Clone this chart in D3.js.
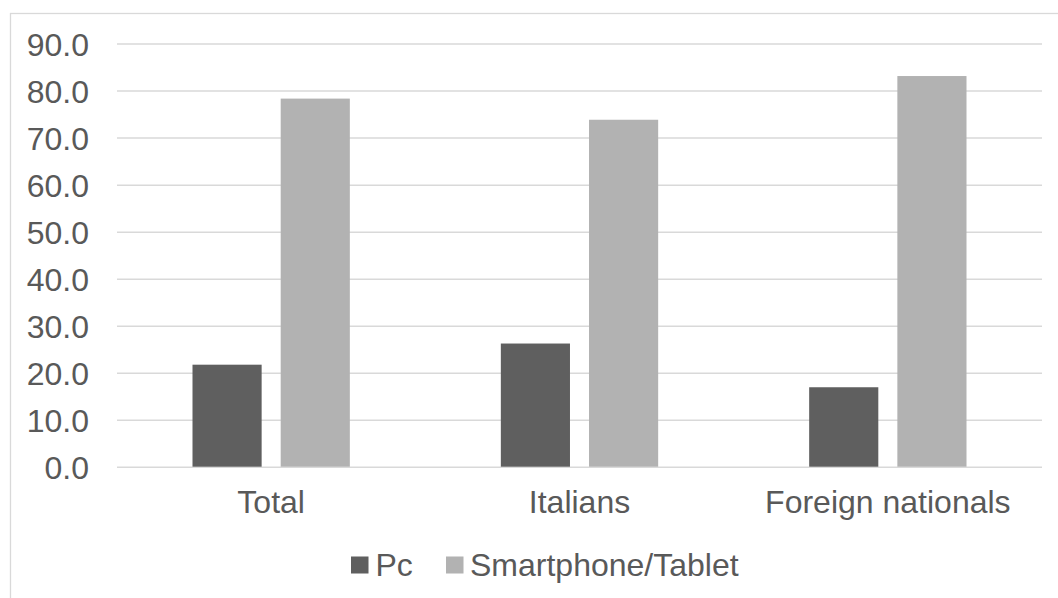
<!DOCTYPE html>
<html>
<head>
<meta charset="utf-8">
<script src="https://cdn.jsdelivr.net/npm/d3@7"></script>
<style>
  html, body { margin: 0; padding: 0; background: #fff; }
  svg { display: block; }
</style>
</head>
<body>
<svg id="chart" width="1058" height="598"></svg>
<script>
const categories = ["Total", "Italians", "Foreign nationals"];
const seriesNames = ["Pc", "Smartphone/Tablet"];
const pcValues = [21.7, 26.2, 16.9];
const smartphoneValues = [78.3, 73.8, 83.1];
const yTicks = [0, 10, 20, 30, 40, 50, 60, 70, 80, 90];
const colors = ["#5f5f5f", "#b2b2b2"];

const data = categories.map((c, i) => ({ cat: c, values: [pcValues[i], smartphoneValues[i]] }));

const svg = d3.select("#chart");
const font = "'Liberation Sans', Arial, sans-serif";
const textColor = "#595959";
const fs = "32px";

// outer chart border (extends past the window)
svg.append("rect")
  .attr("x", 10.5).attr("y", 13.5)
  .attr("width", 1100).attr("height", 700)
  .attr("fill", "#fff").attr("stroke", "#d9d9d9").attr("stroke-width", 1.3);

const plot = { left: 117, right: 1042, top: 43.6, bottom: 466.7 };

const y = d3.scaleLinear().domain([0, 90]).range([plot.bottom, plot.top]);
const x0 = d3.scaleBand().domain(categories).range([plot.left, plot.right]).padding(0);
const outer = 75.5;
const x1 = d3.scaleBand().domain(seriesNames)
  .range([outer, x0.bandwidth() - outer])
  .paddingInner(0.216).paddingOuter(0);

// gridlines
const yAxis = d3.axisLeft(y).tickValues(yTicks)
  .tickSize(-(plot.right - plot.left))
  .tickFormat(d3.format(".1f"))
  .tickPadding(28);
const gy = svg.append("g").attr("transform", `translate(${plot.left},0)`).call(yAxis);
gy.select(".domain").remove();
gy.selectAll(".tick line").attr("stroke", "#d9d9d9").attr("stroke-width", 1.5);
gy.selectAll(".tick text")
  .attr("fill", textColor)
  .attr("font-family", font)
  .attr("font-size", fs)
  .attr("dy", "0.36em");

// bars
const groups = svg.append("g").selectAll("g").data(data).join("g")
  .attr("transform", d => `translate(${x0(d.cat)},0)`);
groups.selectAll("rect")
  .data(d => d.values.map((v, j) => ({ key: seriesNames[j], v, j })))
  .join("rect")
  .attr("x", d => x1(d.key))
  .attr("width", x1.bandwidth())
  .attr("y", d => y(d.v))
  .attr("height", d => y(0) - y(d.v))
  .attr("fill", d => colors[d.j]);

// x axis
const xAxis = d3.axisBottom(x0).tickSize(0).tickPadding(24);
const gx = svg.append("g").attr("transform", `translate(0,${plot.bottom})`).call(xAxis);
gx.select(".domain").remove();
gx.selectAll(".tick text")
  .attr("fill", textColor)
  .attr("font-family", font)
  .attr("font-size", fs);

// legend
const legendItems = [
  { name: seriesNames[0], color: colors[0], sx: 351, tx: 375.5 },
  { name: seriesNames[1], color: colors[1], sx: 446, tx: 470 }
];
const lg = svg.append("g");
legendItems.forEach(it => {
  lg.append("rect").attr("x", it.sx).attr("y", 556.5).attr("width", 17.5).attr("height", 17)
    .attr("fill", it.color);
  lg.append("text").attr("x", it.tx).attr("y", 575.5)
    .attr("fill", textColor).attr("font-family", font).attr("font-size", fs)
    .text(it.name);
});
</script>
</body>
</html>
